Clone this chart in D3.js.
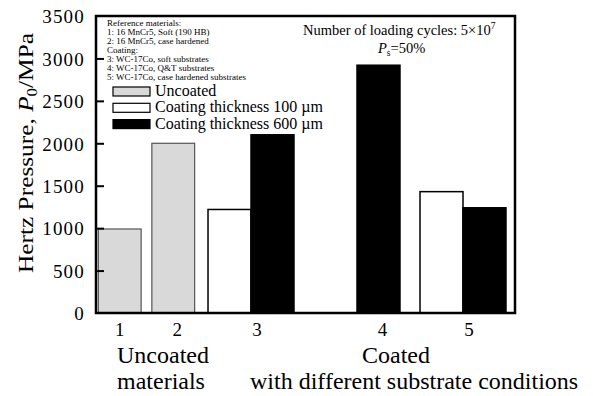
<!DOCTYPE html>
<html>
<head>
<meta charset="utf-8">
<script src="https://cdn.jsdelivr.net/npm/d3@7/dist/d3.min.js"></script>
<style>
  html, body { margin: 0; padding: 0; background: #fff; }
  svg { display: block; }
  svg text { font-family: "Liberation Serif", "Times New Roman", serif; fill: #000; }
</style>
</head>
<body>
<svg id="chart" width="593" height="396"></svg>
<script>
// ---- data ----
const uncoatedGroups = ["1", "2"];
const uncoatedValues = [990, 2000];

const coatedGroups = ["3", "4", "5"];
const thicknesses = ["100", "600"];
const coat100Values = [1220, null, 1430];   // no 100 µm bar for group 4
const coat600Values = [2100, 2920, 1240];

const yTicks = [0, 500, 1000, 1500, 2000, 2500, 3000, 3500];

const noteLines = [
  "Reference materials:",
  "1: 16 MnCr5, Soft (190 HB)",
  "2: 16 MnCr5, case hardened",
  "Coating:",
  "3: WC-17Co, soft substrates",
  "4: WC-17Co, Q&T substrates",
  "5: WC-17Co, case hardened substrates"
];
const legendLabels = ["Uncoated", "Coating thickness 100 \u00b5m", "Coating thickness 600 \u00b5m"];
const legendFills = ["#d9d9d9", "#ffffff", "#000000"];

// ---- layout ----
const plot = { left: 96, right: 515, top: 16, bottom: 313 };
const svg = d3.select("#chart");

const y = d3.scaleLinear().domain([0, 3500]).range([plot.bottom, plot.top]);

const xUncoated = d3.scaleBand().domain(uncoatedGroups)
  .range([93, 200]).paddingInner(0.2).paddingOuter(0.1);

const xCoated = d3.scaleBand().domain(coatedGroups).range([198, 516]);
const xThick = d3.scaleBand().domain(thicknesses)
  .range([0, xCoated.bandwidth()]).paddingOuter(0.233);

// ---- bars ----
const barsG = svg.append("g");

barsG.selectAll("rect.unc")
  .data(uncoatedGroups.map((g, i) => ({ g, v: uncoatedValues[i] })))
  .join("rect")
  .attr("class", "unc")
  .attr("x", d => xUncoated(d.g))
  .attr("width", xUncoated.bandwidth())
  .attr("y", d => y(d.v))
  .attr("height", d => y(0) - y(d.v))
  .attr("fill", legendFills[0])
  .attr("stroke", "#555")
  .attr("stroke-width", 1.2);

const coatedData = [];
coatedGroups.forEach((g, i) => {
  if (coat100Values[i] != null) coatedData.push({ g, t: "100", v: coat100Values[i] });
  if (coat600Values[i] != null) coatedData.push({ g, t: "600", v: coat600Values[i] });
});

barsG.selectAll("rect.coat")
  .data(coatedData)
  .join("rect")
  .attr("class", "coat")
  .attr("x", d => xCoated(d.g) + xThick(d.t))
  .attr("width", xThick.bandwidth())
  .attr("y", d => y(d.v))
  .attr("height", d => y(0) - y(d.v))
  .attr("fill", d => d.t === "100" ? legendFills[1] : legendFills[2])
  .attr("stroke", "#000")
  .attr("stroke-width", 1.5);

// ---- frame & axis ----
svg.append("rect")
  .attr("x", plot.left).attr("y", plot.top)
  .attr("width", plot.right - plot.left).attr("height", plot.bottom - plot.top)
  .attr("fill", "none").attr("stroke", "#000").attr("stroke-width", 2.5);

const yAxis = d3.axisLeft(y).tickValues(yTicks).tickFormat(d3.format("d"))
  .tickSize(-8).tickPadding(11);
const yAxisG = svg.append("g")
  .attr("transform", `translate(${plot.left},0)`)
  .call(yAxis)
  .attr("font-family", null).attr("font-size", null);
yAxisG.select(".domain").remove();
yAxisG.selectAll(".tick line").attr("stroke-width", 2)
  .filter(d => d === 0 || d === 3500).remove();
yAxisG.selectAll(".tick text")
  .attr("font-size", 19).attr("letter-spacing", 1.2)
  .attr("dy", "0.36em");

// y title
svg.append("text")
  .attr("transform", "translate(33,153) rotate(-90)")
  .attr("text-anchor", "middle")
  .attr("font-size", 21)
  .attr("textLength", 240).attr("lengthAdjust", "spacingAndGlyphs")
  .call(t => {
    t.append("tspan").text("Hertz Pressure, ");
    t.append("tspan").attr("font-style", "italic").text("P");
    t.append("tspan").attr("font-size", 14).attr("dy", 4).text("0");
    t.append("tspan").attr("dy", -4).text("/MPa");
  });

// x tick labels: centred under the bars that are drawn
const tickPos = [];
uncoatedGroups.forEach((g, i) => tickPos.push({ g, x: xUncoated(g) + xUncoated.bandwidth() / 2 + i * 4 }));
coatedGroups.forEach(g => {
  const bars = coatedData.filter(d => d.g === g);
  const x0 = d3.min(bars, d => xCoated(g) + xThick(d.t));
  const x1 = d3.max(bars, d => xCoated(g) + xThick(d.t) + xThick.bandwidth());
  tickPos.push({ g, x: (x0 + x1) / 2 + (bars.length > 1 ? 6 : 4) });
});
svg.selectAll("text.xtick")
  .data(tickPos)
  .join("text")
  .attr("class", "xtick")
  .attr("x", d => d.x).attr("y", 336)
  .attr("text-anchor", "middle")
  .attr("font-size", 19)
  .text(d => d.g);

// section labels
const sectionText = [
  { x: 117, y: 363, s: "Uncoated" },
  { x: 117, y: 389, s: "materials" },
  { x: 362, y: 363, s: "Coated" },
  { x: 250, y: 389, s: "with different substrate conditions" }
];
svg.selectAll("text.section")
  .data(sectionText)
  .join("text")
  .attr("class", "section")
  .attr("x", d => d.x).attr("y", d => d.y)
  .attr("font-size", 24)
  .text(d => d.s);

// ---- notes ----
svg.selectAll("text.note")
  .data(noteLines)
  .join("text")
  .attr("class", "note")
  .attr("x", 107)
  .attr("y", (d, i) => 25.5 + i * 9.1)
  .attr("font-size", 9)
  .text(d => d);

// ---- legend ----
const leg = svg.selectAll("g.leg")
  .data(legendLabels)
  .join("g")
  .attr("class", "leg")
  .attr("transform", (d, i) => `translate(113,${96 + i * 16.3})`);
leg.append("rect")
  .attr("x", 0).attr("y", -9).attr("width", 37).attr("height", 9)
  .attr("fill", (d, i) => legendFills[i])
  .attr("stroke", "#000").attr("stroke-width", 1.2);
leg.append("text")
  .attr("x", 42).attr("y", 0)
  .attr("font-size", 16)
  .text(d => d);

// ---- conditions ----
const cond = svg.append("text").attr("x", 303).attr("y", 35).attr("font-size", 14.5);
cond.append("tspan").text("Number of loading cycles: 5\u00d710");
cond.append("tspan").attr("font-size", 9.5).attr("dy", -6).text("7");

const ps = svg.append("text").attr("x", 378).attr("y", 53).attr("font-size", 14.5);
ps.append("tspan").attr("font-style", "italic").text("P");
ps.append("tspan").attr("font-size", 9.5).attr("dy", 3).text("s");
ps.append("tspan").attr("dy", -3).text("=50%");
</script>
</body>
</html>
